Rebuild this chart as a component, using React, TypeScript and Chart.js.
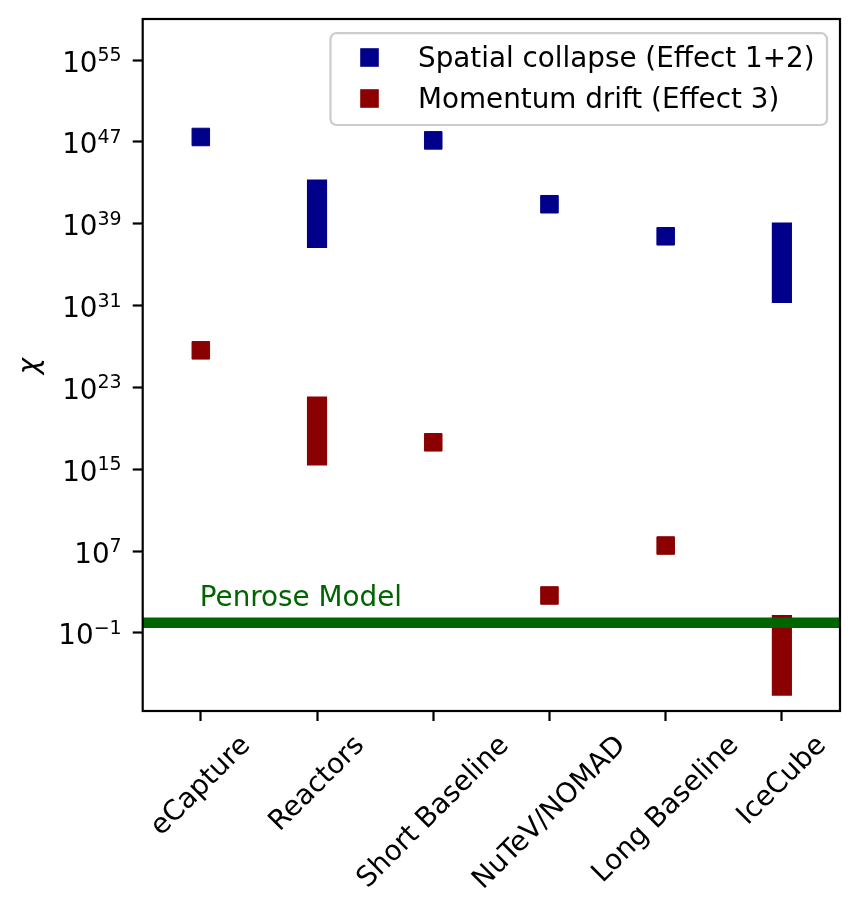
import React, { useEffect, useRef } from "react";
import { Chart, registerables } from "chart.js";

Chart.register(...registerables);

// categories along the x axis
const categories = ["eCapture", "Reactors", "Short Baseline", "NuTeV/NOMAD", "Long Baseline", "IceCube"];
const seriesLabels = ["Spatial collapse (Effect 1+2)", "Momentum drift (Effect 3)"];

// chi values (null = shown as range instead)
const spatialPoints = [3.0e47, null, 1.4e47, 8.0e40, 5.9e37, null];
const spatialRanges = [null, [4.5e36, 1.9e43], null, null, null, [1.9e31, 1.2e39]];
const driftPoints = [4.2e26, null, 4.3e17, 460, 3.5e7, null];
const driftRanges = [null, [2.5e15, 1.2e22], null, null, null, [8.0e-8, 5.4]];

// Penrose model reference level
const penroseChi = 1;
const penroseLabel = "Penrose Model";

// y axis: limits and tick exponents (powers of ten)
const yMinExp = -8.63;
const yMaxExp = 59.01;
const yTickExponents = [-1, 7, 15, 23, 31, 39, 47, 55];
const yTitle = "χ";

const BLUE = "#00008b";
const RED = "#8b0000";
const GREEN = "#006400";
const FONT = "'DejaVu Sans', sans-serif";
const FS = 27.8;

const overlay = {
  id: "overlay",
  afterDatasetsDraw(chart: any) {
    const { ctx, chartArea: a, scales } = chart;
    const py = scales.y.getPixelForValue(penroseChi);
    ctx.save();
    ctx.beginPath();
    ctx.rect(a.left, a.top, a.right - a.left, a.bottom - a.top);
    ctx.clip();
    ctx.strokeStyle = GREEN;
    ctx.lineWidth = 10.5;
    ctx.lineCap = "butt";
    ctx.beginPath();
    ctx.moveTo(a.left, py);
    ctx.lineTo(a.right, py);
    ctx.stroke();
    ctx.fillStyle = GREEN;
    ctx.font = `${FS}px ${FONT}`;
    ctx.textAlign = "left";
    ctx.textBaseline = "alphabetic";
    ctx.fillText(penroseLabel, scales.x.getPixelForValue(0) - 1, py - 16.3);
    ctx.restore();
  },
  afterDraw(chart: any) {
    const { ctx, chartArea: a, scales } = chart;
    ctx.save();

    // spines
    ctx.strokeStyle = "#000";
    ctx.lineWidth = 2.2;
    ctx.strokeRect(a.left, a.top, a.right - a.left, a.bottom - a.top);

    // y tick labels 10^n
    ctx.fillStyle = "#000";
    ctx.textBaseline = "alphabetic";
    ctx.textAlign = "left";
    const right = a.left - 10 - 11;
    yTickExponents.forEach((e) => {
      const y = scales.y.getPixelForValue(Math.pow(10, e));
      const expStr = e < 0 ? "\u2212" + Math.abs(e) : String(e);
      ctx.font = `19px ${FONT}`;
      const we = ctx.measureText(expStr).width;
      ctx.fillText(expStr, right - we, y + 1);
      ctx.font = `${FS}px ${FONT}`;
      const wb = ctx.measureText("10").width;
      ctx.fillText("10", right - we - wb, y + 11.5);
    });

    // x tick labels, rotated 45deg, centred under tick
    ctx.font = `${FS}px ${FONT}`;
    categories.forEach((label, i) => {
      const x = scales.x.getPixelForValue(i);
      const w = ctx.measureText(label).width;
      const H = (w + 29) * Math.SQRT1_2;
      const cy = a.bottom + 10 + 9.7 + H / 2;
      ctx.save();
      ctx.translate(x, cy);
      ctx.rotate(-Math.PI / 4);
      ctx.fillText(label, -w / 2, 7.6);
      ctx.restore();
    });

    // y axis title
    ctx.save();
    ctx.font = `italic ${FS}px ${FONT}`;
    ctx.textAlign = "center";
    ctx.translate(38.3, (a.top + a.bottom) / 2 + 1);
    ctx.rotate(-Math.PI / 2);
    ctx.fillText(yTitle, 0, 0);
    ctx.restore();

    // legend (upper right)
    const lx = 330.5, ly = 33.2, lw = 496.5, lh = 91.8, r = 6;
    ctx.beginPath();
    ctx.moveTo(lx + r, ly);
    ctx.arcTo(lx + lw, ly, lx + lw, ly + lh, r);
    ctx.arcTo(lx + lw, ly + lh, lx, ly + lh, r);
    ctx.arcTo(lx, ly + lh, lx, ly, r);
    ctx.arcTo(lx, ly, lx + lw, ly, r);
    ctx.closePath();
    ctx.fillStyle = "rgba(255,255,255,0.8)";
    ctx.fill();
    ctx.strokeStyle = "#cccccc";
    ctx.lineWidth = 2.2;
    ctx.stroke();
    const rows = [57.5, 98.5];
    [BLUE, RED].forEach((c, i) => {
      ctx.fillStyle = c;
      ctx.fillRect(369.5 - 9.3, rows[i] - 9.3, 18.6, 18.6);
      ctx.fillStyle = "#000";
      ctx.font = `${FS}px ${FONT}`;
      ctx.textAlign = "left";
      ctx.fillText(seriesLabels[i], 418, rows[i] + 9.3);
    });

    ctx.restore();
  },
};

export default function App() {
  const canvasRef = useRef<HTMLCanvasElement>(null);
  const chartRef = useRef<Chart | null>(null);

  useEffect(() => {
    if (!canvasRef.current) return;
    const ctx = canvasRef.current.getContext("2d");
    if (!ctx) return;
    if (chartRef.current) chartRef.current.destroy();

    const pointSet = (label: string, data: any[], color: string) => ({
      type: "line" as const,
      label,
      data,
      showLine: false,
      pointStyle: "rect",
      pointRadius: 12.4,
      pointBorderWidth: 1,
      pointBackgroundColor: color,
      pointBorderColor: color,
      borderColor: color,
      backgroundColor: color,
    });
    const rangeSet = (label: string, data: any[], color: string) => ({
      type: "bar" as const,
      label,
      data,
      backgroundColor: color,
      borderWidth: 0,
      barThickness: 19.5,
      grouped: false,
    });

    chartRef.current = new Chart(ctx, {
      type: "bar",
      data: {
        labels: categories,
        datasets: [
          pointSet(seriesLabels[0], spatialPoints, BLUE),
          rangeSet(seriesLabels[0], spatialRanges, BLUE),
          pointSet(seriesLabels[1], driftPoints, RED),
          rangeSet(seriesLabels[1], driftRanges, RED),
        ] as any,
      },
      options: {
        responsive: false,
        animation: false,
        layout: { padding: { top: 19, right: 20, left: 0, bottom: 0 } },
        plugins: {
          legend: { display: false },
          tooltip: { enabled: false },
        },
        scales: {
          x: {
            type: "category",
            offset: true,
            grid: {
              offset: false,
              drawOnChartArea: false,
              drawTicks: true,
              tickLength: 10,
              tickWidth: 2.2,
              tickColor: "#000",
            },
            border: { display: false },
            ticks: { display: false },
            afterFit: (s: any) => {
              s.height = 204;
            },
          },
          y: {
            type: "logarithmic",
            min: Math.pow(10, yMinExp),
            max: Math.pow(10, yMaxExp),
            grid: {
              drawOnChartArea: false,
              drawTicks: true,
              tickLength: 10,
              tickWidth: 2.2,
              tickColor: "#000",
            },
            border: { display: false },
            ticks: { display: false },
            afterBuildTicks: (s: any) => {
              s.ticks = yTickExponents.map((e) => ({ value: Math.pow(10, e) }));
            },
            afterFit: (s: any) => {
              s.width = 142.7;
            },
          },
        },
      } as any,
      plugins: [overlay],
    });

    return () => {
      if (chartRef.current) {
        chartRef.current.destroy();
        chartRef.current = null;
      }
    };
  }, []);

  return (
    <div style={{ position: "absolute", left: 0, top: 0, width: 860, height: 915, background: "#fff" }}>
      <canvas ref={canvasRef} width={860} height={915} style={{ display: "block" }}></canvas>
    </div>
  );
}
